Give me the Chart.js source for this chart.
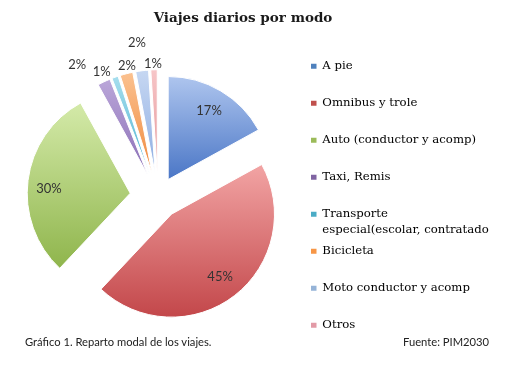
<!DOCTYPE html>
<html><head><meta charset="utf-8">
<script src="https://cdn.jsdelivr.net/npm/chart.js@4.4.1/dist/chart.umd.min.js"></script>
<style>
html,body{margin:0;padding:0;background:#fff;}
#wrap{position:relative;width:520px;height:368px;overflow:hidden;background:#fff;}
#c{position:absolute;left:0;top:0;}
#title{position:absolute;left:0;top:7px;width:486px;text-align:center;font-family:"DejaVu Serif",serif;font-weight:bold;font-size:13.5px;line-height:20px;color:#1a1a1a;white-space:nowrap;}
.cap{position:absolute;top:335px;font-family:Lato,"Open Sans",sans-serif;font-size:11.2px;color:#222;white-space:nowrap;}
</style></head><body>
<div id="wrap">
<canvas id="c" width="520" height="368"></canvas>
<div id="title"></div>
<div class="cap" id="capL" style="left:25px"></div>
<div class="cap" id="capR" style="right:31px"></div>
</div>
<script>
// ---- data ----
const titleText = 'Viajes diarios por modo';
const categories = ['A pie', 'Omnibus y trole', 'Auto (conductor y acomp)', 'Taxi, Remis',
  ['Transporte', 'especial(escolar, contratado'], 'Bicicleta', 'Moto conductor y acomp', 'Otros'];
const values = [17, 45, 30, 2, 1, 2, 2, 1];
const captionLeft = 'Gráfico 1. Reparto modal de los viajes.';
const captionRight = 'Fuente: PIM2030';

// ---- style ----
const legendColors = ['#4f81bd', '#c0504d', '#9bbb59', '#8064a2', '#4bacc6', '#f79646', '#95b3d7', '#e29aa6'];
const lightColors = ['#aec5ee', '#f2a4a4', '#d4eaa9', '#baa6d9', '#a6deee', '#fbc18f', '#c6d7f2', '#f7c6c8'];
const darkColors  = ['#4a76c6', '#c3474a', '#8fb54c', '#8a6fb6', '#4cb1cf', '#ef8a3f', '#8eade2', '#e39496'];
const explode = [20, 22, 28, 24, 24, 24, 24, 24];
const labelFactor = [0.78, 0.77, 0.79, 1.27, 1.10, 1.07, 1.28, 1.06];
const labelNudgeDeg = [0, 0, -4.2, -7.5, -5.3, 1.3, -0.7, -0.4];
const pieRadius = 103;

document.getElementById('title').textContent = titleText;
document.getElementById('capL').textContent = captionLeft;
document.getElementById('capR').textContent = captionRight;

function sliceFill(ctx) {
  const i = ctx.dataIndex, chart = ctx.chart, area = chart.chartArea;
  if (!area || i === undefined) return darkColors[i] || '#888';
  const total = values.reduce((a, b) => a + b, 0);
  let before = 0;
  for (let k = 0; k < i; k++) before += values[k];
  const a0 = -Math.PI / 2 + before / total * 2 * Math.PI;
  const a1 = a0 + values[i] / total * 2 * Math.PI;
  const mid = (a0 + a1) / 2;
  const cy = (area.top + area.bottom) / 2 + Math.sin(mid) * explode[i];
  const ys = [cy, cy + pieRadius * Math.sin(a0), cy + pieRadius * Math.sin(a1)];
  if (a0 <= Math.PI / 2 && a1 >= Math.PI / 2) ys.push(cy + pieRadius);
  const g = chart.ctx.createLinearGradient(0, Math.min(...ys), 0, Math.max(...ys));
  g.addColorStop(0, lightColors[i]);
  g.addColorStop(1, darkColors[i]);
  return g;
}

const explodePlugin = {
  id: 'explodeSlices',
  afterDatasetUpdate(chart, args) {
    args.meta.data.forEach((arc, i) => {
      const d = explode[i] || 0;
      const mid = (arc.startAngle + arc.endAngle) / 2;
      arc.x += Math.cos(mid) * d;
      arc.y += Math.sin(mid) * d;
    });
  }
};

const pctLabels = {
  id: 'pctLabels',
  afterDatasetsDraw(chart) {
    const meta = chart.getDatasetMeta(0);
    const c = chart.ctx;
    c.save();
    c.font = '13px Lato, "Open Sans", sans-serif';
    c.fillStyle = '#333';
    c.textAlign = 'center';
    c.textBaseline = 'middle';
    meta.data.forEach((arc, i) => {
      const mid = (arc.startAngle + arc.endAngle) / 2 + labelNudgeDeg[i] * Math.PI / 180;
      const r = arc.outerRadius * labelFactor[i];
      c.fillText(values[i] + '%', arc.x + Math.cos(mid) * r, arc.y + Math.sin(mid) * r);
    });
    c.restore();
  }
};

new Chart(document.getElementById('c'), {
  type: 'pie',
  data: {
    labels: categories,
    datasets: [{
      data: values,
      backgroundColor: sliceFill,
      borderColor: '#ffffff',
      borderWidth: 1,
      radius: pieRadius
    }]
  },
  options: {
    responsive: false,
    animation: false,
    devicePixelRatio: 1,
    layout: { padding: { left: 10, right: 24, top: 55.5, bottom: 30 } },
    plugins: {
      title: { display: false },
      legend: {
        position: 'right',
        align: 'start',
        fullSize: false,
        maxWidth: 190,
        labels: {
          boxWidth: 5.5,
          boxHeight: 5,
          padding: 5,
          color: '#2b2b2b',
          font: { family: '"DejaVu Serif", serif', size: 11.7, lineHeight: '16px' },
          generateLabels(chart) {
            const labels = chart.data.labels;
            return labels.map((lab, i) => {
              const lines = Array.isArray(lab) ? lab : [lab];
              let text;
              if (i === labels.length - 1 && lines.length === 1) text = lines[0];
              else text = lines.length > 1 ? lines : [lines[0], ''];
              return { text, fillStyle: legendColors[i], strokeStyle: legendColors[i], lineWidth: 0,
                       hidden: !chart.getDataVisibility(i), index: i };
            });
          }
        }
      },
      tooltip: { enabled: false }
    }
  },
  plugins: [explodePlugin, pctLabels]
});
</script>
</body></html>
